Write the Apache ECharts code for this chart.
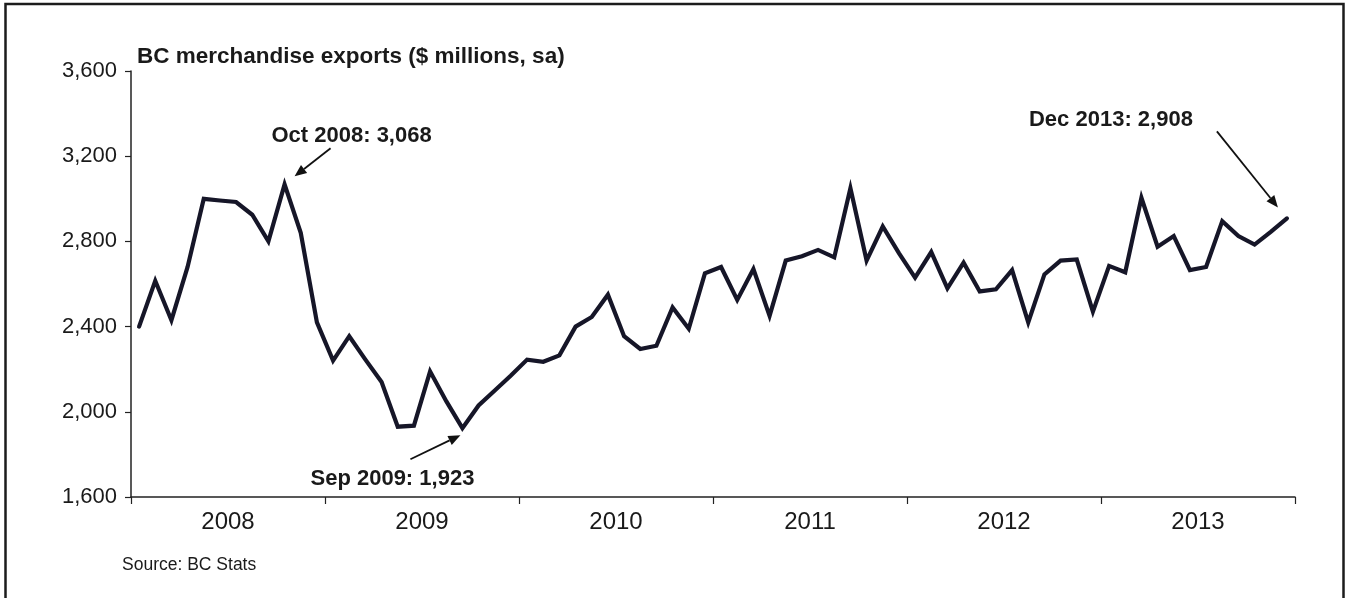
<!DOCTYPE html>
<html>
<head>
<meta charset="utf-8">
<title>BC merchandise exports</title>
<script src="https://cdn.jsdelivr.net/npm/echarts@6/dist/echarts.min.js"></script>
<style>
  html, body { margin: 0; padding: 0; background: #ffffff; }
  #chart { width: 1347px; height: 598px; }
</style>
</head>
<body>
<div id="chart"></div>
<script>
// Monthly BC merchandise exports, $ millions, seasonally adjusted (Jan 2008 - Dec 2013)
const years = ['2008', '2009', '2010', '2011', '2012', '2013'];
const monthNames = ['Jan', 'Feb', 'Mar', 'Apr', 'May', 'Jun', 'Jul', 'Aug', 'Sep', 'Oct', 'Nov', 'Dec'];

const exports2008 = [2400, 2615, 2430, 2680, 3000, 2992, 2985, 2925, 2800, 3068, 2840, 2420];
const exports2009 = [2240, 2355, 2245, 2140, 1930, 1935, 2190, 2050, 1923, 2030, 2100, 2170];
const exports2010 = [2245, 2235, 2265, 2400, 2445, 2550, 2355, 2295, 2310, 2490, 2390, 2650];
const exports2011 = [2680, 2525, 2670, 2450, 2710, 2730, 2760, 2725, 3050, 2710, 2870, 2745];
const exports2012 = [2630, 2750, 2580, 2700, 2565, 2575, 2665, 2420, 2645, 2710, 2715, 2470];
const exports2013 = [2685, 2655, 3005, 2775, 2825, 2665, 2680, 2895, 2825, 2785, 2845, 2908];

const yTicks = [1600, 2000, 2400, 2800, 3200, 3600];

// Highlighted months: index into the monthly series and the text shown
const calloutMonths = [9, 20, 71];
const calloutTexts = ['Oct 2008: 3,068', 'Sep 2009: 1,923', 'Dec 2013: 2,908'];

const titleText = 'BC merchandise exports ($ millions, sa)';
const sourceText = 'Source: BC Stats';

// ---- build category list and series values ----
const months = [];
years.forEach(y => monthNames.forEach(m => months.push(m + ' ' + y)));
const values = [].concat(exports2008, exports2009, exports2010, exports2011, exports2012, exports2013);

const ink = '#161628';
const textColor = '#1a1a1a';
const font = 'Liberation Sans, Arial, Helvetica, sans-serif';

const chart = echarts.init(document.getElementById('chart'), null, { renderer: 'canvas' });

const option = {
  backgroundColor: '#ffffff',
  animation: false,
  title: {
    text: titleText,
    left: 132,
    top: 40,
    textStyle: { fontFamily: font, fontSize: 22.5, fontWeight: 'bold', color: textColor }
  },
  grid: { left: 131, right: 52, top: 71, bottom: 101, containLabel: false },
  xAxis: [
    {
      // monthly axis carrying the series
      type: 'category',
      data: months,
      boundaryGap: true,
      position: 'bottom',
      axisLine: { show: true, lineStyle: { color: '#222', width: 1.5 } },
      axisTick: { show: true, interval: 11, length: 7, inside: false, lineStyle: { color: '#222', width: 1.2 } },
      axisLabel: { show: false },
      splitLine: { show: false }
    },
    {
      // year labels centred under each 12-month band
      type: 'category',
      data: years,
      boundaryGap: true,
      position: 'bottom',
      axisLine: { show: false },
      axisTick: { show: false },
      axisLabel: { show: true, margin: 13, fontFamily: font, fontSize: 24, color: textColor },
      splitLine: { show: false }
    }
  ],
  yAxis: {
    type: 'value',
    min: yTicks[0],
    max: yTicks[yTicks.length - 1],
    interval: yTicks[1] - yTicks[0],
    axisLine: { show: true, lineStyle: { color: '#222', width: 1.5 } },
    axisTick: { show: true, length: 6, inside: false, lineStyle: { color: '#222', width: 1.2 } },
    axisLabel: {
      margin: 14,
      fontFamily: font,
      fontSize: 22,
      color: textColor,
      formatter: v => v.toLocaleString('en-US')
    },
    splitLine: { show: false }
  },
  series: [
    {
      type: 'line',
      xAxisIndex: 0,
      data: values,
      symbol: 'none',
      smooth: false,
      lineStyle: { color: ink, width: 4.2, join: 'miter', cap: 'round' },
      z: 3
    }
  ]
};

chart.setOption(option);

// ---- callout arrows and text anchored to the data points ----
// tip / tail / text offsets (px) relative to each highlighted point
const calloutLayout = [
  { tip: [10, -8], tail: [46, -36], text: [67, -48] },
  { tip: [-2, 7], tail: [-52, 31], text: [-70, 51] },
  { tip: [-9, -11], tail: [-70, -87], text: [-176, -98] }
];

function arrowHead(tip, tail, len, halfW) {
  const dx = tip[0] - tail[0], dy = tip[1] - tail[1];
  const d = Math.sqrt(dx * dx + dy * dy) || 1;
  const ux = dx / d, uy = dy / d;
  const bx = tip[0] - ux * len, by = tip[1] - uy * len;
  return [
    [tip[0], tip[1]],
    [bx - uy * halfW, by + ux * halfW],
    [bx + uy * halfW, by - ux * halfW]
  ];
}

const graphics = [];
calloutMonths.forEach((idx, i) => {
  const p = chart.convertToPixel({ xAxisIndex: 0, yAxisIndex: 0 }, [idx, values[idx]]);
  const L = calloutLayout[i];
  const tip = [p[0] + L.tip[0], p[1] + L.tip[1]];
  const tail = [p[0] + L.tail[0], p[1] + L.tail[1]];
  const head = arrowHead(tip, tail, 12, 5);
  graphics.push({
    type: 'line',
    shape: { x1: tail[0], y1: tail[1], x2: (head[1][0] + head[2][0]) / 2, y2: (head[1][1] + head[2][1]) / 2 },
    style: { stroke: '#111', lineWidth: 1.8 },
    z: 10
  });
  graphics.push({
    type: 'polygon',
    shape: { points: head },
    style: { fill: '#111' },
    z: 10
  });
  graphics.push({
    type: 'text',
    x: p[0] + L.text[0],
    y: p[1] + L.text[1],
    style: {
      text: calloutTexts[i],
      fontFamily: font,
      fontSize: 22,
      fontWeight: 'bold',
      fill: textColor,
      align: 'center',
      verticalAlign: 'middle'
    },
    z: 10
  });
});

// source note
graphics.push({
  type: 'text',
  left: 122,
  top: 556,
  style: { text: sourceText, fontFamily: font, fontSize: 17.5, fill: textColor }
});

// outer frame
graphics.push({
  type: 'rect',
  shape: { x: 5.5, y: 4, width: 1338, height: 640 },
  style: { fill: 'none', stroke: '#1c1c1c', lineWidth: 2.5 },
  silent: true,
  z: 20
});

chart.setOption({ graphic: graphics });
</script>
</body>
</html>
